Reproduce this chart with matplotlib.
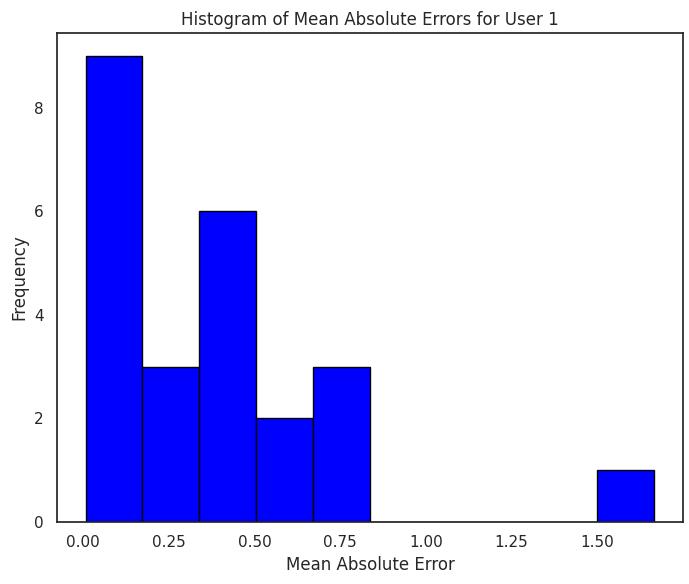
import numpy as np
import matplotlib
matplotlib.use("Agg")
import matplotlib.pyplot as plt
import seaborn as sns

# mean absolute errors for user 1
mae_values = [0.008, 0.02, 0.035, 0.05, 0.07, 0.09, 0.11, 0.13, 0.16,
              0.21, 0.26, 0.31,
              0.36, 0.39, 0.42, 0.44, 0.47, 0.49,
              0.55, 0.62,
              0.70, 0.75, 0.81,
              1.666]
n_bins = 10

sns.set_theme(style="white")
plt.rcParams['font.family'] = ['DejaVu Sans']

fig, ax = plt.subplots(figsize=(6.89, 5.84), dpi=100)
fig.subplots_adjust(left=0.083, right=0.991, bottom=0.1065, top=0.9435)

ax.hist(mae_values, bins=n_bins, color='blue', edgecolor='black')
ax.set_title('Histogram of Mean Absolute Errors for User 1')
ax.set_xlabel('Mean Absolute Error')
ax.set_ylabel('Frequency')

fig.savefig('out.png', dpi=100)
